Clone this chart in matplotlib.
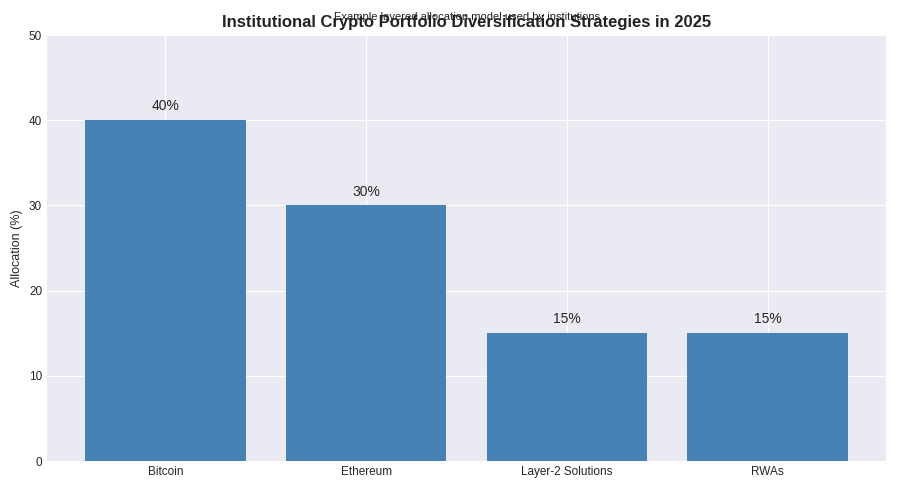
import matplotlib
matplotlib.use("Agg")
import matplotlib.pyplot as plt

categories = ["Bitcoin", "Ethereum", "Layer-2 Solutions", "RWAs"]
values = [40, 30, 15, 15]

plt.style.use("seaborn-v0_8-darkgrid")
plt.rcParams['font.family'] = ['Liberation Sans', 'DejaVu Sans']
fig = plt.figure(figsize=(9, 4.96), dpi=100)
ax = fig.add_axes([47/900, 1-461/496, 839/900, 426/496])
bars = ax.bar(categories, values, color="steelblue", width=0.8)
for b, v in zip(bars, values):
    ax.text(b.get_x()+b.get_width()/2, v+0.8, f"{v}%", ha="center", va="bottom", fontsize=10)
ax.set_ylim(0, 50)
ax.set_ylabel("Allocation (%)", fontsize=9)
ax.tick_params(labelsize=8.5)
fig.text(467/900, 1-22/496, "Institutional Crypto Portfolio Diversification Strategies in 2025",
         ha="center", va="center", fontsize=12, fontweight="bold", color="#222222")
fig.text(467/900, 1-17/496, "Example layered allocation model used by institutions",
         ha="center", va="center", fontsize=8, color="#222222")
fig.savefig("out.png", dpi=100)
